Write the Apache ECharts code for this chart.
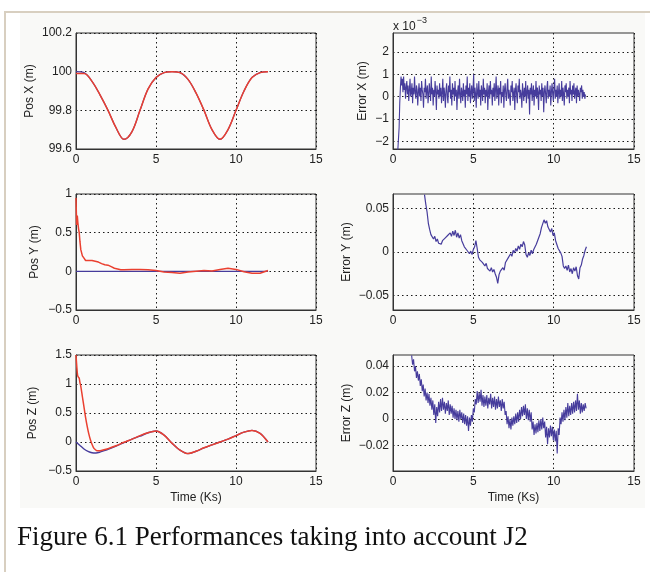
<!DOCTYPE html>
<html>
<head>
<meta charset="utf-8">
<script src="https://cdn.jsdelivr.net/npm/echarts@6/dist/echarts.min.js"></script>
<style>html,body{margin:0;padding:0;background:#fff;}#c{width:650px;height:572px;}</style>
</head>
<body>
<div id="c"></div>
<script>
// ---------- data ----------
const posXTime = [0,0.5,1,1.5,2,2.5,3,3.5,4,4.5,5,5.5,6,6.5,7,7.5,8,8.5,9,9.5,10,10.5,11,11.5,12];
const posXEst  = [99.99,99.99,99.95,99.88,99.8,99.71,99.65,99.69,99.8,99.91,99.97,99.995,100,99.995,99.96,99.89,99.8,99.7,99.65,99.7,99.8,99.9,99.97,99.995,100];
const posXRef  = [100,99.995,99.95,99.88,99.8,99.71,99.65,99.69,99.8,99.91,99.97,99.995,100,99.995,99.96,99.89,99.8,99.7,99.65,99.7,99.8,99.9,99.97,99.995,100];

const posYTime = [0,0.04,0.08,0.12,0.16,0.2,0.25,0.3,0.4,0.5,0.6,0.7,0.8,0.9,1.0,1.2,1.4,1.6,1.8,1.9,2.0,2.2,2.4,2.6,2.8,3.0,3.5,4.0,4.5,5.0,5.5,6.0,6.5,7.0,7.5,8.0,8.5,9.0,9.5,10.0,10.5,11.0,11.5,12.0];
const posYEst  = [0.95,0.6,0.72,0.62,0.55,0.5,0.38,0.28,0.2,0.17,0.14,0.16,0.14,0.15,0.14,0.13,0.12,0.1,0.085,0.095,0.08,0.06,0.04,0.03,0.02,0.02,0.025,0.025,0.02,0.01,-0.01,-0.015,-0.025,-0.01,0.0,0.01,0.005,0.025,0.04,0.025,-0.005,-0.025,-0.025,0.01];
const posYRefTime = [0,12];
const posYRef  = [0,0];

const posZTime = [0,0.05,0.1,0.15,0.2,0.25,0.3,0.4,0.5,0.6,0.7,0.8,0.9,1.0,1.1,1.2,1.3,1.5,1.75,2.0,2.5,3.0,3.5,4.0,4.5,5.0,5.5,6.0,6.5,7.0,7.5,8.0,8.5,9.0,9.5,10.0,10.5,11.0,11.5,12.0];
const posZEst  = [1.5,1.3,1.15,1.12,1.1,1.02,0.96,0.78,0.6,0.42,0.27,0.14,0.04,-0.04,-0.1,-0.13,-0.15,-0.15,-0.135,-0.115,-0.065,-0.005,0.05,0.11,0.16,0.19,0.12,-0.02,-0.14,-0.2,-0.16,-0.1,-0.05,0.0,0.05,0.11,0.17,0.2,0.15,0.0];
const posZRefTime = [0,0.25,0.5,0.75,1.0,1.25,1.5,1.75,2.0,2.5,3.0,3.5,4.0,4.5,5.0,5.5,6.0,6.5,7.0,7.5,8.0,8.5,9.0,9.5,10.0,10.5,11.0,11.5,12.0];
const posZRef  = [0,-0.06,-0.12,-0.16,-0.185,-0.19,-0.175,-0.15,-0.125,-0.07,-0.01,0.05,0.1,0.16,0.19,0.12,-0.02,-0.14,-0.2,-0.16,-0.1,-0.05,0.0,0.05,0.11,0.17,0.2,0.15,0.0];

// error samples: start time and sampling step (Ks)
const errXStart = 0.30, errXStep = 0.04;
const errYStart = 1.96, errYStep = 0.08;
const errZStart = 1.16, errZStep = 0.06;
// Error X in units of 1e-3 m
const errX = [-2.4,-1.9,-1.4,-0.3,0.4,0.9,0.5,0.8,0.2,0.9,
0.3,0.6,-0.1,0.4,0.7,0.1,0.5,-0.2,0.3,0.8,0.0,0.2,0.6,-0.3,0.4,0.1,0.9,0.2,-0.1,0.5,
0.3,-0.4,0.2,0.6,0.0,0.4,-0.2,0.7,0.3,0.1,-0.5,0.4,0.2,0.8,-0.1,0.3,0.5,-0.3,0.1,0.6,
0.2,-0.2,0.9,0.1,0.4,-0.4,0.3,0.0,0.7,0.2,-0.6,0.5,0.1,0.3,-0.1,0.6,0.0,0.4,-0.3,0.2,
0.8,-0.2,0.4,0.1,-0.5,0.3,0.6,0.0,-0.3,0.5,0.2,0.9,-0.1,0.3,-0.4,0.6,0.1,0.4,-0.2,0.7,
0.0,0.3,-0.6,0.2,0.5,-0.1,0.8,0.1,-0.3,0.4,0.2,-0.2,0.6,0.0,0.3,-0.5,0.5,0.1,0.9,-0.2,
0.4,0.0,0.6,-0.3,0.2,0.5,-0.1,0.3,1.0,-0.2,0.4,0.1,-0.5,0.6,0.2,-0.1,0.7,0.0,0.3,-0.4,
0.5,0.2,-0.2,0.8,0.1,0.4,-0.3,0.3,0.0,0.6,-0.6,0.2,0.5,-0.1,0.7,0.1,0.3,-0.4,0.4,0.0,
0.6,-0.2,0.3,0.9,-0.1,0.2,0.5,-0.4,0.4,0.1,0.7,-0.3,0.2,0.0,0.5,-0.5,0.3,0.6,0.1,-0.2,
0.4,0.8,-0.1,0.3,0.0,-0.4,0.5,0.2,0.7,-0.2,0.1,0.4,-0.6,0.3,0.6,0.0,-0.3,0.5,0.2,0.8,
-0.1,0.3,0.1,-0.5,0.6,0.2,-0.2,0.4,0.0,0.7,-0.3,0.2,0.5,-0.1,0.3,-0.8,0.4,0.1,0.6,-0.2,
0.2,0.5,-0.4,0.3,0.0,0.7,-0.1,0.4,0.2,-0.6,0.5,0.1,0.3,-0.2,0.6,0.0,0.4,-0.7,0.2,0.5,
0.1,-0.3,0.4,0.7,-0.1,0.3,0.0,0.5,-0.4,0.2,0.6,0.1,-0.2,0.4,0.8,-0.1,0.3,0.0,0.5,-0.3,
0.2,0.6,-0.1,0.3,0.0,0.7,-0.2,0.4,0.1,-0.4,0.5,0.2,0.6,-0.1,0.3,0.0,0.4,-0.3,0.7,0.1,
0.3,-0.2,0.5,0.1,0.6,-0.1,0.2,0.4,-0.3,0.5,0.0,0.3,0.1,-0.2,0.4,0.2,0.5,-0.1,0.3,0.0,
0.2,-0.1,0.1];
const errY = [0.066,0.055,0.046,0.033,0.026,0.020,0.021,0.015,0.018,0.012,
0.015,0.010,0.011,0.009,0.013,0.012,0.016,0.014,0.019,0.017,
0.022,0.018,0.024,0.019,0.025,0.017,0.022,0.016,0.020,0.013,
0.011,0.006,0.008,0.002,0.004,-0.002,0.001,-0.003,0.003,0.006,
0.013,0.004,-0.006,-0.009,-0.007,-0.012,-0.010,-0.016,-0.013,-0.019,
-0.017,-0.022,-0.018,-0.023,-0.020,-0.025,-0.029,-0.036,-0.026,-0.022,
-0.024,-0.018,-0.021,-0.012,-0.014,-0.007,-0.009,-0.002,-0.005,0.002,
-0.001,0.004,0.001,0.007,0.003,0.009,0.006,0.012,0.008,-0.003,
-0.006,-0.001,-0.004,0.002,-0.002,0.003,0.001,0.009,0.011,0.017,
0.021,0.028,0.030,0.037,0.033,0.036,0.029,0.031,0.023,0.027,
0.019,0.022,0.013,0.011,0.004,0.005,-0.001,-0.005,-0.016,-0.019,
-0.016,-0.021,-0.015,-0.023,-0.019,-0.025,-0.018,-0.022,-0.017,-0.027,
-0.031,-0.018,-0.015,-0.008,-0.004,0.002,0.006];
const errZ = [0.048,0.041,0.045,0.036,0.040,0.031,0.036,0.029,0.034,0.025,
0.030,0.021,0.026,0.017,0.023,0.014,0.020,0.012,0.019,0.010,
0.016,0.007,0.014,0.003,0.011,-0.003,0.009,0.002,0.013,0.005,
0.015,0.006,0.016,0.007,0.013,0.004,0.012,0.006,0.014,0.003,
0.011,0.004,0.010,0.001,0.008,0.0,0.007,-0.001,0.006,-0.002,
0.007,0.0,0.005,-0.003,0.004,-0.004,0.003,-0.005,0.002,-0.009,
0.001,-0.005,0.003,-0.002,0.008,0.005,0.015,0.011,0.021,0.012,
0.020,0.013,0.022,0.010,0.018,0.009,0.017,0.010,0.018,0.008,
0.016,0.011,0.019,0.008,0.016,0.009,0.017,0.007,0.015,0.008,
0.017,0.009,0.014,0.006,0.015,0.008,0.013,0.003,0.006,-0.004,
0.002,-0.007,0.0,-0.008,0.001,-0.005,0.002,-0.004,0.004,-0.003,
0.005,-0.002,0.007,0.0,0.009,0.002,0.010,0.003,0.011,0.0,
0.008,-0.001,0.007,-0.002,0.005,-0.008,-0.002,-0.012,-0.004,-0.011,
-0.003,-0.010,-0.001,-0.009,0.0,-0.008,0.001,-0.007,-0.002,-0.014,
-0.006,-0.019,-0.007,-0.014,-0.005,-0.013,-0.006,-0.016,-0.008,-0.017,
-0.009,-0.026,-0.007,-0.012,0.001,-0.004,0.005,-0.002,0.007,-0.001,
0.009,0.001,0.012,0.002,0.010,0.003,0.012,0.004,0.013,0.005,
0.014,0.006,0.019,0.007,0.014,0.004,0.012,0.005,0.011,0.006,
0.012,0.008];

const xTicks = [0,5,10,15];
const posXTicks = [99.6,99.8,100,100.2];
const posYTicks = [-0.5,0,0.5,1];
const posZTicks = [-0.5,0,0.5,1,1.5];
const errXTicks = [-2,-1,0,1,2];
const errYTicks = [-0.05,0,0.05];
const errZTicks = [-0.02,0,0.02,0.04];

const yNames = ['Pos X (m)','Error X (m)','Pos Y (m)','Error Y (m)','Pos Z (m)','Error Z (m)'];
const xName = 'Time (Ks)';
const caption = 'Figure 6.1 Performances taking into account J2';

// ---------- build ----------
function pairs(t, v){ return v.map((y,i)=>[t[i], y]); }
function sampled(start, step, v){ return v.map((y,i)=>[+(start + i*step).toFixed(3), y]); }

const RED = '#ea4030', BLUE = '#463c9c', TXT = '#222';
const FONT = 'Liberation Sans';
const L1 = 76, L2 = 393, W1 = 240, W2 = 241, H = 116;
const tops = [33, 194, 355];
const grids = [];
for (let r=0;r<3;r++){ grids.push({left:L1, top:tops[r], width:W1, height:H}); grids.push({left:L2, top:tops[r], width:W2, height:H}); }
grids.forEach(g=>{ g.show=true; g.backgroundColor='#fbfbfa'; g.borderColor='#333'; g.borderWidth=1; g.containLabel=false; });

const fmt = v => { const s = (Math.round(v*10000)/10000).toString(); return v<0 ? '\u2212'+s.slice(1) : s; };

const yRanges = [
  {min:99.6, max:100.2, ticks:posXTicks, gap:40},
  {min:-2.35, max:2.85, ticks:errXTicks, gap:24},
  {min:-0.5, max:1, ticks:posYTicks, gap:35},
  {min:-0.0667, max:0.0667, ticks:errYTicks, gap:40},
  {min:-0.5, max:1.5, ticks:posZTicks, gap:37},
  {min:-0.0393, max:0.0483, ticks:errZTicks, gap:40}
];
const splitStyle = {color:'#1a1a1a', type:[1.5,3], width:1};

const xAxes = grids.map((g,i)=>({
  type:'value', gridIndex:i, min:0, max:15,
  axisLine:{show:true, onZero:false, lineStyle:{color:'#333'}},
  axisTick:{show:false, customValues:xTicks},
  axisLabel:{customValues:xTicks, color:TXT, fontSize:12, fontFamily:FONT, margin:5, showMinLabel:true, showMaxLabel:true},
  splitLine:{show:true, lineStyle:splitStyle},
  name: i>=4 ? xName : '', nameLocation:'middle', nameGap:21,
  nameTextStyle:{color:TXT, fontSize:12, fontFamily:FONT}
}));
const yAxes = grids.map((g,i)=>({
  type:'value', gridIndex:i, min:yRanges[i].min, max:yRanges[i].max,
  axisLine:{show:true, onZero:false, lineStyle:{color:'#333'}},
  axisTick:{show:false, customValues:yRanges[i].ticks},
  axisLabel:{customValues:yRanges[i].ticks, color:TXT, fontSize:12, fontFamily:FONT, margin:4, formatter:fmt},
  splitLine:{show:true, lineStyle:splitStyle},
  name:yNames[i], nameLocation:'middle', nameRotate:90, nameGap:yRanges[i].gap,
  nameTextStyle:{color:TXT, fontSize:12, fontFamily:FONT}
}));

function line(i, data, color, w, smooth){
  return {type:'line', xAxisIndex:i, yAxisIndex:i, data:data, symbol:'none', clip:true,
    smooth: smooth||false,
    lineStyle:{color:color, width:w}, itemStyle:{color:color}, animation:false};
}
const series = [
  line(0, pairs(posXTime, posXRef), BLUE, 1.2, 0.35),
  line(0, pairs(posXTime, posXEst), RED, 1.5, 0.35),
  line(1, sampled(errXStart, errXStep, errX), BLUE, 1.1),
  line(2, pairs(posYRefTime, posYRef), BLUE, 1.2),
  line(2, pairs(posYTime, posYEst), RED, 1.5),
  line(3, sampled(errYStart, errYStep, errY), BLUE, 1.2),
  line(4, pairs(posZRefTime, posZRef), BLUE, 1.4, 0.3),
  line(4, pairs(posZTime, posZEst), RED, 1.5, 0.3),
  line(5, sampled(errZStart, errZStep, errZ), BLUE, 1.1)
];

const chart = echarts.init(document.getElementById('c'), null, {renderer:'canvas'});
chart.setOption({
  animation:false,
  backgroundColor:'#ffffff',
  grid:grids, xAxis:xAxes, yAxis:yAxes, series:series,
  graphic:[
    {type:'rect', z:-10, silent:true, shape:{x:20, y:13, width:625, height:495}, style:{fill:'#f9f9f7'}},
    {type:'rect', z:-9, silent:true, shape:{x:4, y:11, width:646, height:2}, style:{fill:'#d8cfc0'}},
    {type:'rect', z:-9, silent:true, shape:{x:4, y:11, width:2, height:561}, style:{fill:'#d8cfc0'}},
    {type:'text', left:393, top:16, style:{text:'{a|x 10}{b|\u22123}', rich:{a:{fontSize:12, fontFamily:FONT, fill:TXT, verticalAlign:'bottom'}, b:{fontSize:9, fontFamily:FONT, fill:TXT, verticalAlign:'top', padding:[0,0,8,1]}}}},
    {type:'text', left:17, top:524, style:{text:caption, fontSize:27, fontFamily:'Liberation Serif', fill:'#111'}}
  ]
});
</script>
</body>
</html>
